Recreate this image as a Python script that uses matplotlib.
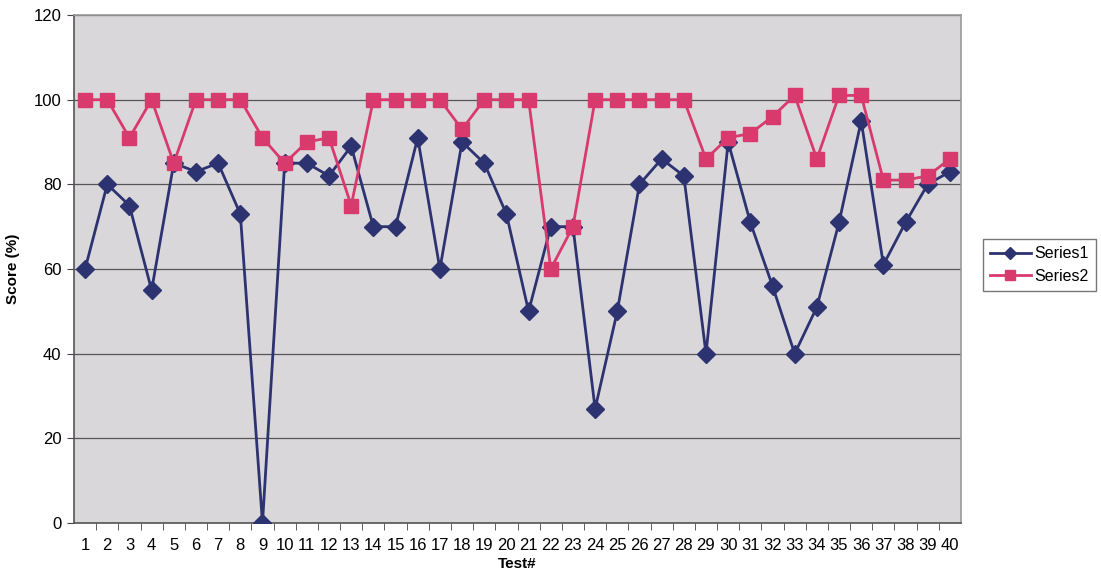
import matplotlib
matplotlib.use("Agg")
from matplotlib import pyplot as plt
import numpy as np

# test numbers and scores
tests = list(range(1, 41))
series1 = [60, 80, 75, 55, 85, 83, 85, 73, 0, 85,
           85, 82, 89, 70, 70, 91, 60, 90, 85, 73,
           50, 70, 70, 27, 50, 80, 86, 82, 40, 90,
           71, 56, 40, 51, 71, 95, 61, 71, 80, 83]
series2 = [100, 100, 91, 100, 85, 100, 100, 100, 91, 85,
           90, 91, 75, 100, 100, 100, 100, 93, 100, 100,
           100, 60, 70, 100, 100, 100, 100, 100, 86, 91,
           92, 96, 101, 86, 101, 101, 81, 81, 82, 86]
y_ticks = [0, 20, 40, 60, 80, 100, 120]

plt.rcParams['font.family'] = ['Liberation Sans', 'DejaVu Sans']

fig = plt.figure(figsize=(11.01, 5.79), dpi=100)
ax = fig.add_axes([74 / 1101, (579 - 523) / 579, (961 - 74) / 1101, (523 - 15) / 579])
ax.set_facecolor("#d9d7da")

ax.plot(tests, series1, color="#2d3270", lw=2.0, marker="D", ms=9,
        label="Series1", zorder=3)
ax.plot(tests, series2, color="#d93a6e", lw=2.0, marker="s", ms=10,
        label="Series2", zorder=4)

ax.set_xlim(0.5, 40.5)
ax.set_ylim(0, 120)
ax.set_yticks(y_ticks)
ax.yaxis.grid(True, color="#555555", lw=0.9)
ax.set_axisbelow(True)

# category labels between boundary ticks, like the spreadsheet chart
ax.set_xticks(tests)
ax.set_xticklabels([str(t) for t in tests])
ax.tick_params(axis="x", length=0, pad=11, labelsize=12)
ax.set_xticks(np.arange(1.5, 40.5, 1), minor=True)
ax.tick_params(axis="x", which="minor", length=5, color="#444444", direction="out")
ax.tick_params(axis="y", length=5, color="#444444", labelsize=12, pad=4)

for side in ["left", "bottom"]:
    ax.spines[side].set_color("#555555")
    ax.spines[side].set_linewidth(1.2)
for side in ["top", "right"]:
    ax.spines[side].set_color("#9a9a9a")
    ax.spines[side].set_linewidth(1.2)

ax.set_xlabel("Test#", fontsize=11, fontweight="bold", labelpad=3)
ax.set_ylabel("Score (%)", fontsize=11, fontweight="bold", labelpad=10)

leg = fig.legend(loc="center right", bbox_to_anchor=(1096 / 1101, 1 - 265 / 579),
                 fontsize=11.5, frameon=True, fancybox=False, handlelength=2.6,
                 markerscale=0.7, borderpad=0.45, labelspacing=0.45,
                 handletextpad=0.2, borderaxespad=0)
leg.get_frame().set_edgecolor("#555555")
leg.get_frame().set_linewidth(1.0)

fig.savefig("out.png", dpi=100)
